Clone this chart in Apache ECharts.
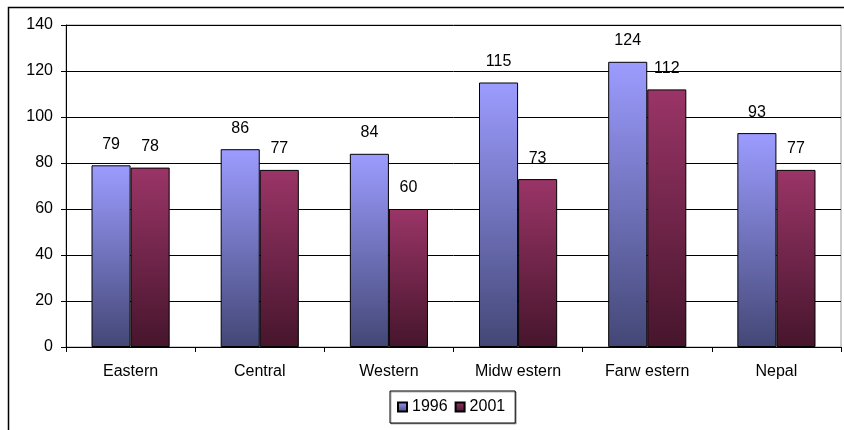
<!DOCTYPE html>
<html>
<head>
<meta charset="utf-8">
<script src="https://cdn.jsdelivr.net/npm/echarts@6/dist/echarts.min.js"></script>
<style>
  html, body { margin: 0; padding: 0; background: #fff; }
  #chart { width: 844px; height: 430px; }
</style>
</head>
<body>
<div id="chart"></div>
<script>
// Regions and values per census year
const regions = ['Eastern', 'Central', 'Western', 'Midw estern', 'Farw estern', 'Nepal'];
const values1996 = [79, 86, 84, 115, 124, 93];
const values2001 = [78, 77, 60, 73, 112, 77];
const yTicks = { min: 0, max: 140, step: 20 };

const FONT = '"Liberation Sans", Arial, sans-serif';
const FS = 16;

function vgrad(top, bottom) {
  return new echarts.graphic.LinearGradient(0, 0, 0, 1, [
    { offset: 0, color: top },
    { offset: 1, color: bottom }
  ]);
}

const labelStyle = {
  show: true,
  position: 'top',
  distance: 13,
  color: '#000',
  fontFamily: FONT,
  fontSize: FS
};

const chart = echarts.init(document.getElementById('chart'), null, { renderer: 'canvas' });
chart.setOption({
  backgroundColor: '#fff',
  animation: false,
  graphic: [
    {
      type: 'rect',
      shape: { x: 8.5, y: 7.5, width: 850, height: 450 },
      style: { fill: 'none', stroke: '#000', lineWidth: 1.5 },
      z: 0
    }
  ],
  grid: {
    left: 66, top: 25, right: 3, bottom: 83,
    show: true, borderColor: '#999', borderWidth: 1, backgroundColor: 'transparent'
  },
  legend: {
    left: 390, top: 391,
    padding: [8, 10, 8, 7],
    itemWidth: 9, itemHeight: 9, itemGap: 7,
    icon: 'rect',
    borderColor: '#000', borderWidth: 1,
    shadowColor: 'rgba(0,0,0,0.3)', shadowOffsetX: 1, shadowOffsetY: 1, shadowBlur: 0,
    backgroundColor: '#fff',
    textStyle: { fontFamily: FONT, fontSize: FS, color: '#000' },
    data: ['1996', '2001']
  },
  xAxis: {
    type: 'category',
    data: regions,
    axisLine: { lineStyle: { color: '#000', width: 1 } },
    axisTick: { show: true, length: 5, alignWithLabel: false, lineStyle: { color: '#000' } },
    axisLabel: { margin: 17, color: '#000', fontFamily: FONT, fontSize: FS }
  },
  yAxis: {
    type: 'value',
    min: yTicks.min, max: yTicks.max, interval: yTicks.step,
    axisLine: { show: true, lineStyle: { color: '#000', width: 1 } },
    axisTick: { show: true, length: 5, lineStyle: { color: '#000' } },
    axisLabel: { margin: 13, color: '#000', fontFamily: FONT, fontSize: FS },
    splitLine: { show: true, lineStyle: { color: '#000', width: 1 } }
  },
  series: [
    {
      name: '1996', type: 'bar', data: values1996,
      barGap: '0%', barCategoryGap: '39.5%',
      itemStyle: { color: vgrad('#9c9cff', '#434775'), borderColor: '#000', borderWidth: 1 },
      label: labelStyle
    },
    {
      name: '2001', type: 'bar', data: values2001,
      itemStyle: { color: vgrad('#9a3567', '#46152c'), borderColor: '#000', borderWidth: 1 },
      label: labelStyle
    }
  ]
});
</script>
</body>
</html>
